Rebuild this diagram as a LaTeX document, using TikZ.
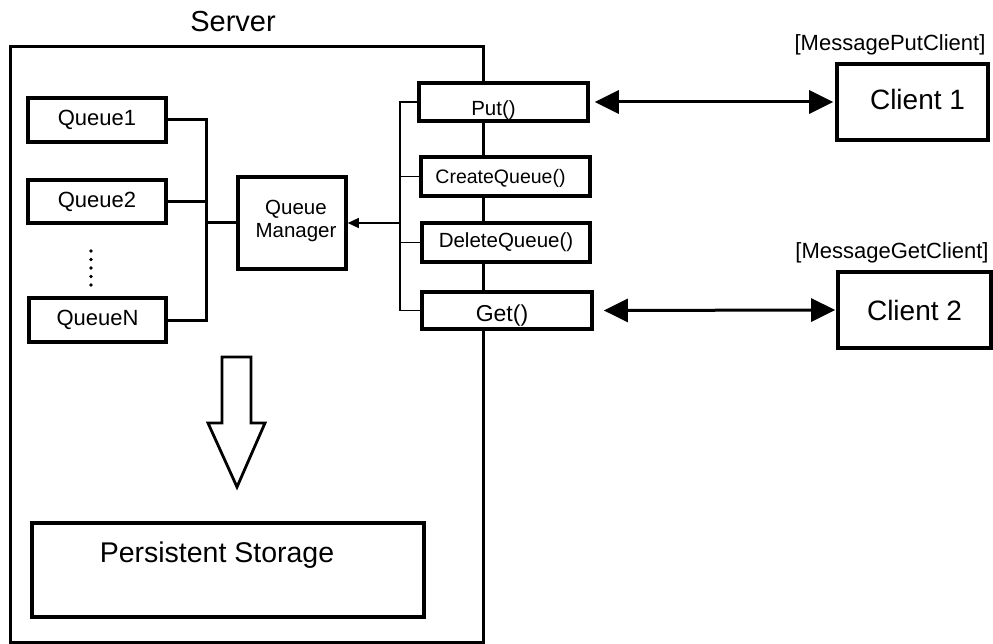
\documentclass[tikz,border=0pt]{standalone}
\usepackage{fontspec}
\setmainfont{Liberation Sans}
\usetikzlibrary{arrows.meta}
\begin{document}
\begin{tikzpicture}[x=1pt,y=-1pt,
  box/.style={draw=black, line width=3.6pt, fill=white, inner sep=0pt},
  thinln/.style={line width=1.4pt},
  thickln/.style={line width=3pt},
  qfont/.style={font=\fontsize{22}{26}\selectfont},
  mfont/.style={font=\fontsize{20.5}{24}\selectfont},
  cfont/.style={font=\fontsize{28}{33}\selectfont},
  tagfont/.style={font=\fontsize{22}{26}\selectfont}]
\useasboundingbox (0,0) rectangle (993,644);

% server frame
\node[draw=black, line width=3pt, minimum width=473pt, minimum height=595pt, inner sep=0pt] (server) at (246.5,344.5) {};
\node[font=\fontsize{29}{34}\selectfont] (servlbl) at (233,22) {Server};

% queues
\node[box, qfont, minimum width=138pt, minimum height=44pt] (q1) at (97,120) {Queue1};
\node[box, qfont, minimum width=138pt, minimum height=43pt] (q2) at (97,201.5) {Queue2};
\node[box, qfont, minimum width=137pt, minimum height=44pt] (qN) at (97.5,320) {QueueN};
\foreach \yy in {251,259.5,268,276.5,285} \fill (91,\yy) circle (1.8pt);

% queue manager
\node[box, minimum width=108pt, minimum height=92pt,
  label={[font=\fontsize{20.5}{23}\selectfont, align=center, xshift=4pt, yshift=2pt]center:Queue\\Manager}] (qm) at (292,223) {};

% bus between queues and manager
\coordinate (bt) at (206,122);
\draw[thickln] (q1.east) -- (q1.east -| bt) -- (qN.east -| bt) -- (qN.east);
\draw[thickln] (q2.east) -- (q2.east -| bt);
\draw[thickln] (qm.west) -- (qm.west -| bt);

% method boxes (over the server frame)
\node[box, minimum width=169pt, minimum height=38pt,
  label={[mfont, xshift=-10pt, yshift=-8pt]center:Put()}] (put) at (503.5,102) {};
\node[box, minimum width=169pt, minimum height=39pt,
  label={[font=\fontsize{19.5}{23}\selectfont, xshift=-5pt, yshift=-2pt]center:CreateQueue()}] (create) at (505.5,176.5) {};
\node[box, minimum width=168pt, minimum height=39pt,
  label={[mfont]center:DeleteQueue()}] (delete) at (506,242.5) {};
\node[box, minimum width=170pt, minimum height=37pt,
  label={[font=\fontsize{23}{27}\selectfont, xshift=-5pt, yshift=-5pt]center:Get()}] (get) at (507,310.5) {};

% thin bus to the manager
\coordinate (mx) at (400,0);
\draw[thinln] (put.west) -- (put.west -| mx) -- (get.west -| mx) -- (get.west);
\draw[thinln] (create.west) -- (create.west -| mx);
\draw[thinln] (delete.west) -- (delete.west -| mx);
\draw[thinln, -{Triangle[length=11pt,width=10pt]}] (qm.east -| mx) -- (qm.east);

% clients
\node[box, minimum width=151pt, minimum height=76pt,
  label={[cfont, xshift=5pt, yshift=3pt]center:Client 1}] (c1) at (912.5,102) {};
\node[box, minimum width=153pt, minimum height=76pt,
  label={[cfont]center:Client 2}] (c2) at (914.5,310) {};
\node[tagfont, anchor=center] (tag1) at (890,45) {[MessagePutClient]};
\node[tagfont, anchor=center] (tag2) at (892,253) {[MessageGetClient]};

\draw[thickln, {Triangle[length=24pt,width=23pt]}-{Triangle[length=24pt,width=23pt]}, shorten <=5pt, shorten >=2pt] (put.east) -- (c1.west);
\draw[thickln, {Triangle[length=24pt,width=23pt]}-{Triangle[length=24pt,width=23pt]}, shorten <=10pt, shorten >=1pt] (get.east) -- (c2.west);

% hollow arrow
\draw[line width=2.8pt, line join=miter] (222,357) -- (251,357) -- (251,423) -- (265,423) -- (237,487) -- (208,423) -- (222,423) -- cycle;

% persistent storage
\node[box, minimum width=392pt, minimum height=94pt,
  label={[font=\fontsize{28.5}{34}\selectfont, xshift=-11pt, yshift=15pt]center:Persistent Storage}] (ps) at (228,570) {};
\end{tikzpicture}
\end{document}
